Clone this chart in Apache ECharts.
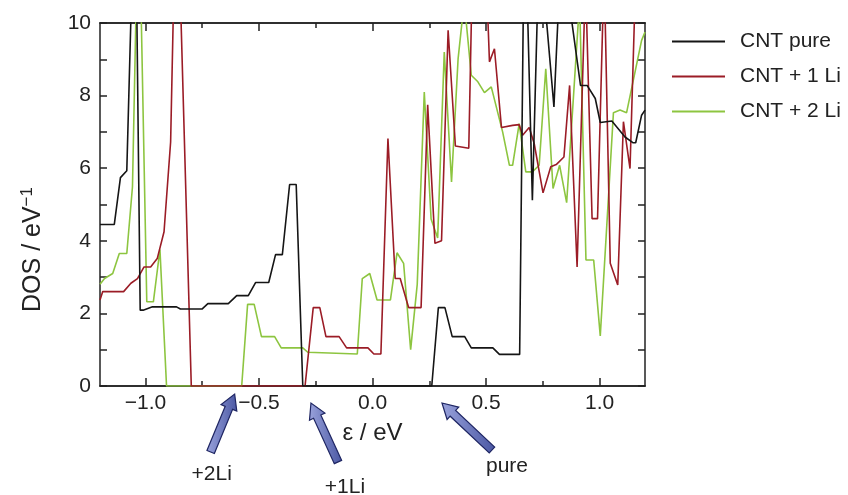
<!DOCTYPE html>
<html><head><meta charset="utf-8">
<script src="https://cdn.jsdelivr.net/npm/echarts@6/dist/echarts.min.js"></script>
<style>html,body{margin:0;padding:0;background:#fff}#c{width:848px;height:495px}</style>
</head><body><div id="c"></div><script>
const seriesNames = ['CNT pure', 'CNT + 1 Li', 'CNT + 2 Li'];
const seriesColors = ['#151515', '#9b1c26', '#8dc540'];

const cntPure = [[-1.2,4.45],[-1.137,4.45],[-1.11,5.74],[-1.082,5.93],[-1.058,11.5],[-1.04,11.5],[-1.023,2.09],[-1.01,2.09],[-0.969,2.18],[-0.863,2.18],[-0.846,2.12],[-0.751,2.12],[-0.725,2.27],[-0.635,2.27],[-0.598,2.49],[-0.547,2.49],[-0.515,2.85],[-0.457,2.85],[-0.427,3.62],[-0.397,3.62],[-0.365,5.55],[-0.336,5.55],[-0.307,0],[0.261,0],[0.29,2.16],[0.319,2.16],[0.351,1.36],[0.406,1.36],[0.435,1.05],[0.53,1.05],[0.559,0.87],[0.648,0.87],[0.664,10.3],[0.683,10.3],[0.704,5.12],[0.726,10.3],[0.763,10.3],[0.799,7.69],[0.818,10.3],[0.872,10.3],[0.916,8.28],[0.945,8.28],[0.981,7.92],[1.003,7.26],[1.054,7.3],[1.112,6.86],[1.148,6.7],[1.159,6.7],[1.185,7.46],[1.2,7.6]];

const cntLi1 = [[-1.2,2.37],[-1.188,2.6],[-1.096,2.6],[-1.064,2.83],[-1.035,2.96],[-1.006,3.28],[-0.977,3.28],[-0.948,3.51],[-0.918,4.25],[-0.889,6.72],[-0.87,12.4],[-0.85,11.6],[-0.798,0],[-0.297,0],[-0.261,2.16],[-0.232,2.16],[-0.205,1.36],[-0.147,1.36],[-0.114,1.05],[-0.02,1.05],[0.006,0.88],[0.037,0.88],[0.068,6.82],[0.1,2.96],[0.122,2.96],[0.159,2.16],[0.214,2.16],[0.243,7.75],[0.275,3.93],[0.304,4.0],[0.333,9.8],[0.365,6.61],[0.424,6.55],[0.44,11.5],[0.5,11.5],[0.515,8.93],[0.537,9.29],[0.568,7.12],[0.617,7.18],[0.646,7.2],[0.661,6.91],[0.69,7.12],[0.712,6.68],[0.751,5.32],[0.785,6.04],[0.809,6.1],[0.843,6.31],[0.868,8.28],[0.901,3.28],[0.938,11.2],[0.967,4.61],[0.991,4.61],[1.02,11.5],[1.047,3.38],[1.08,2.78],[1.105,7.28],[1.134,5.99],[1.16,11.5],[1.2,11.5]];

const cntLi2 = [[-1.2,2.8],[-1.18,2.96],[-1.144,3.1],[-1.115,3.65],[-1.082,3.65],[-1.057,5.49],[-1.036,12],[-1.024,12],[-0.994,2.32],[-0.965,2.32],[-0.936,3.76],[-0.907,0],[-0.576,0],[-0.55,2.25],[-0.521,2.25],[-0.489,1.36],[-0.431,1.36],[-0.402,1.05],[-0.307,1.05],[-0.285,0.93],[-0.067,0.88],[-0.045,2.96],[-0.012,3.1],[0.02,2.37],[0.079,2.37],[0.108,3.67],[0.137,3.38],[0.168,1.0],[0.197,2.8],[0.228,8.1],[0.258,4.6],[0.287,4.08],[0.316,9.2],[0.348,5.62],[0.377,9.02],[0.404,10.6],[0.435,8.56],[0.464,8.38],[0.493,8.08],[0.523,8.24],[0.573,7.0],[0.603,6.08],[0.617,6.08],[0.646,7.23],[0.675,5.9],[0.704,5.9],[0.734,6.08],[0.763,8.74],[0.795,5.44],[0.824,6.08],[0.855,5.05],[0.912,10.6],[0.94,3.47],[0.974,3.47],[1.003,1.38],[1.061,7.53],[1.09,7.6],[1.119,7.53],[1.185,9.52],[1.2,9.75]];

const xMajorTicks = [-1, -0.5, 0, 0.5, 1];
const xMinorTicks = [-0.75, -0.25, 0.25, 0.75];
const arrowTargets = [-0.607, -0.271, 0.306];
const arrowLabels = ['+2Li', '+1Li', 'pure'];

const FONT = '"Liberation Sans", Arial, Helvetica, sans-serif';
const AX = '#222';
const fmt = v => (v < 0 ? '\u2212' : '') + Math.abs(v).toFixed(1);

const chart = echarts.init(document.getElementById('c'), null, {renderer: 'canvas'});

function xAx(pos, ticks, len, labels, extra) {
  return Object.assign({
    type: 'value', position: pos, min: -1.2, max: 1.2,
    axisLine: {show: true, onZero: false, lineStyle: {color: AX, width: 1.5}},
    axisTick: {show: true, inside: true, length: len, customValues: ticks, lineStyle: {color: AX, width: 1.5}},
    axisLabel: labels ? {show: true, customValues: ticks, formatter: fmt, fontSize: 21, color: AX, fontFamily: FONT, margin: 7} : {show: false},
    splitLine: {show: false}
  }, extra || {});
}
function yAx(pos, labels, extra) {
  return Object.assign({
    type: 'value', position: pos, min: 0, max: 10, interval: 2,
    axisLine: {show: true, onZero: false, lineStyle: {color: AX, width: 1.5}},
    axisTick: {show: true, inside: true, length: 7, lineStyle: {color: AX, width: 1.5}},
    minorTick: {show: true, splitNumber: 2, length: 7, lineStyle: {color: AX, width: 1.5}},
    axisLabel: labels ? {show: true, fontSize: 21, color: AX, fontFamily: FONT, margin: 9} : {show: false},
    splitLine: {show: false}
  }, extra || {});
}

const data = [cntPure, cntLi1, cntLi2];

chart.setOption({
  animation: false,
  backgroundColor: '#fff',
  grid: {left: 100, right: 203, top: 23, bottom: 109},
  legend: {
    orient: 'vertical', left: 667, top: 26, itemWidth: 53, itemHeight: 2, itemGap: 14,
    icon: 'rect',
    textStyle: {fontSize: 21, color: AX, fontFamily: FONT, padding: [0, 0, 0, 10]},
    data: seriesNames
  },
  xAxis: [
    xAx('bottom', xMajorTicks, 8, true, {
      name: '\u03b5 / eV', nameLocation: 'middle', nameGap: 35,
      nameTextStyle: {fontSize: 24, color: AX, fontFamily: FONT}
    }),
    xAx('bottom', xMinorTicks, 5, false),
    xAx('top', xMajorTicks, 8, false),
    xAx('top', xMinorTicks, 5, false)
  ],
  yAxis: [
    yAx('left', true, {
      name: '{a|DOS / eV}{b|\u22121}', nameLocation: 'middle', nameGap: 52,
      nameTextStyle: {
        padding: [0, 90, 0, 0],
        rich: {
          a: {fontSize: 25, color: AX, fontFamily: FONT},
          b: {fontSize: 17, color: AX, fontFamily: FONT, verticalAlign: 'top', padding: [0, 0, 12, 0]}
        }
      }
    }),
    yAx('right', false)
  ],
  series: data.map((d, i) => ({
    name: seriesNames[i], type: 'line', data: d, xAxisIndex: 0, yAxisIndex: 0,
    showSymbol: false, symbol: 'none', clip: true,
    lineStyle: {color: seriesColors[i], width: 1.6},
    itemStyle: {color: seriesColors[i]},
    z: 3 - i
  }))
});

// annotation arrows pointing at band edges
const arrowGeom = [
  {tipDy: 8, tail: [-24, 58], label: [-23, 80]},
  {tipDy: 17, tail: [27, 59], label: [34, 84]},
  {tipDy: 17, tail: [50, 47], label: [65, 63]}
];
function arrowPts(T, S, w, H, L) {
  const dx = T[0] - S[0], dy = T[1] - S[1];
  const len = Math.hypot(dx, dy);
  const ux = dx / len, uy = dy / len;
  const nx = -uy, ny = ux;
  const B = [T[0] - ux * L, T[1] - uy * L];
  return [
    [S[0] + nx * w / 2, S[1] + ny * w / 2],
    [B[0] + nx * w / 2, B[1] + ny * w / 2],
    [B[0] + nx * H / 2, B[1] + ny * H / 2],
    T,
    [B[0] - nx * H / 2, B[1] - ny * H / 2],
    [B[0] - nx * w / 2, B[1] - ny * w / 2],
    [S[0] - nx * w / 2, S[1] - ny * w / 2]
  ];
}
const graphics = [];
arrowTargets.forEach((xv, i) => {
  const p = chart.convertToPixel({xAxisIndex: 0, yAxisIndex: 0}, [xv, 0]);
  const g = arrowGeom[i];
  const T = [p[0], p[1] + g.tipDy];
  const S = [T[0] + g.tail[0], T[1] + g.tail[1]];
  graphics.push({
    type: 'polygon', z: 100,
    shape: {points: arrowPts(T, S, 8, 17, 15)},
    style: {
      fill: new echarts.graphic.LinearGradient(0, 0, 1, 0, [{offset: 0, color: '#9aa3dc'}, {offset: 1, color: '#4a57a3'}]),
      stroke: '#1f2663', lineWidth: 1.2
    }
  });
  graphics.push({
    type: 'text', z: 100,
    x: T[0] + g.label[0], y: T[1] + g.label[1],
    style: {text: arrowLabels[i], fontSize: 21, fill: AX, fontFamily: FONT, align: 'center', verticalAlign: 'middle'}
  });
});
chart.setOption({graphic: graphics});
</script></body></html>
